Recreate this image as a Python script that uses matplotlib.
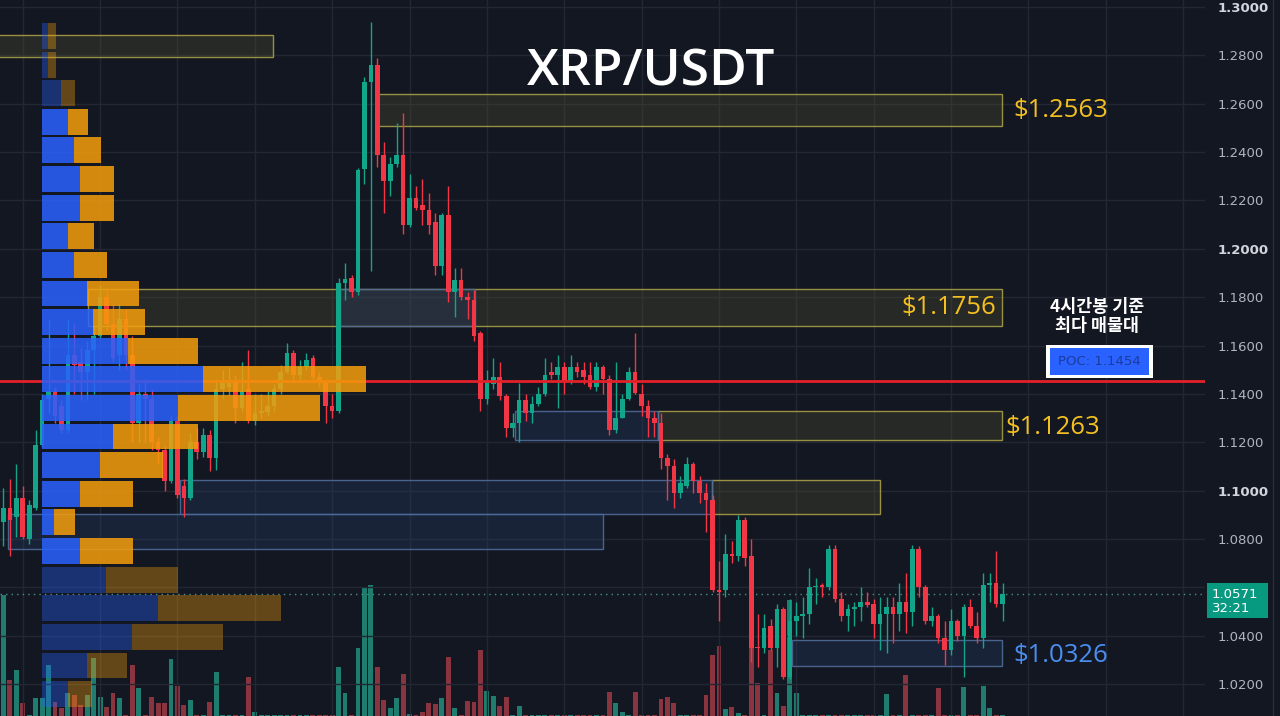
import matplotlib
matplotlib.use('Agg')
import matplotlib.pyplot as plt
import matplotlib.transforms as mtransforms
from matplotlib.patches import Rectangle
from matplotlib.lines import Line2D
from matplotlib.ticker import MultipleLocator

plt.rcParams['font.family'] = ['Open Sans', 'Noto Sans CJK KR', 'DejaVu Sans']

# ---- candles (4h, XRP/USDT) ----
opens = [1.087, 1.093, 1.089, 1.097, 1.080, 1.093, 1.119, 1.138, 1.141, 1.135,
         1.125, 1.156, 1.153, 1.149, 1.158, 1.164, 1.180, 1.169, 1.156, 1.171,
         1.156, 1.128, 1.140, 1.138, 1.120, 1.117, 1.104, 1.129, 1.102, 1.097,
         1.120, 1.116, 1.123, 1.1135, 1.142, 1.143, 1.145, 1.134, 1.142, 1.129,
         1.132, 1.1325, 1.135, 1.142, 1.149, 1.157, 1.148, 1.151, 1.155, 1.147,
         1.145, 1.135, 1.133, 1.186, 1.188, 1.182, 1.233, 1.269, 1.276, 1.239,
         1.228, 1.235, 1.239, 1.210, 1.221, 1.218, 1.216, 1.211, 1.193, 1.214,
         1.182, 1.187, 1.180, 1.179, 1.165, 1.138, 1.144, 1.147, 1.139, 1.126,
         1.128, 1.1375, 1.132, 1.136, 1.140, 1.149, 1.148, 1.151, 1.145, 1.151,
         1.150, 1.148, 1.143, 1.151, 1.146, 1.125, 1.130, 1.138, 1.149, 1.140,
         1.135, 1.130, 1.128, 1.1135, 1.110, 1.099, 1.102, 1.111, 1.104, 1.099,
         1.096, 1.059, 1.059, 1.074, 1.073, 1.088, 1.073, 1.035, 1.035, 1.044,
         1.035, 1.051, 1.023, 1.046, 1.048, 1.049, 1.060, 1.061, 1.060, 1.076,
         1.055, 1.048, 1.051, 1.052, 1.054, 1.053, 1.045, 1.049, 1.052, 1.049,
         1.054, 1.050, 1.076, 1.060, 1.046, 1.048, 1.039, 1.034, 1.046, 1.040,
         1.052, 1.044, 1.039, 1.061, 1.062, 1.053]
highs = [1.101, 1.105, 1.111, 1.102, 1.096, 1.125, 1.140, 1.171, 1.143, 1.1375,
         1.171, 1.169, 1.159, 1.162, 1.168, 1.185, 1.183, 1.177, 1.177, 1.175,
         1.164, 1.144, 1.146, 1.142, 1.122, 1.119, 1.131, 1.131, 1.105, 1.124,
         1.126, 1.126, 1.125, 1.146, 1.150, 1.151, 1.148, 1.153, 1.158, 1.140,
         1.140, 1.141, 1.144, 1.152, 1.161, 1.158, 1.154, 1.157, 1.156, 1.149,
         1.146, 1.140, 1.188, 1.194, 1.189, 1.2334, 1.271, 1.294, 1.279, 1.244,
         1.238, 1.252, 1.256, 1.231, 1.226, 1.229, 1.223, 1.215, 1.215, 1.226,
         1.192, 1.192, 1.182, 1.183, 1.166, 1.150, 1.155, 1.153, 1.140, 1.132,
         1.1445, 1.140, 1.139, 1.143, 1.155, 1.153, 1.156, 1.153, 1.156, 1.153,
         1.153, 1.153, 1.153, 1.152, 1.148, 1.153, 1.140, 1.151, 1.165, 1.144,
         1.1375, 1.133, 1.132, 1.115, 1.113, 1.106, 1.114, 1.112, 1.106, 1.103,
         1.098, 1.071, 1.082, 1.079, 1.090, 1.089, 1.080, 1.049, 1.049, 1.047,
         1.053, 1.052, 1.055, 1.054, 1.056, 1.068, 1.064, 1.062, 1.0775, 1.0775,
         1.058, 1.053, 1.054, 1.060, 1.058, 1.055, 1.056, 1.056, 1.056, 1.062,
         1.066, 1.0775, 1.077, 1.061, 1.052, 1.049, 1.046, 1.051, 1.047, 1.053,
         1.055, 1.050, 1.066, 1.066, 1.075, 1.062]
lows = [1.077, 1.073, 1.081, 1.080, 1.078, 1.092, 1.118, 1.132, 1.128, 1.124,
        1.124, 1.140, 1.1375, 1.1375, 1.140, 1.163, 1.166, 1.153, 1.150, 1.150,
        1.120, 1.120, 1.120, 1.117, 1.111, 1.100, 1.103, 1.097, 1.089, 1.096,
        1.113, 1.114, 1.108, 1.1085, 1.138, 1.139, 1.128, 1.133, 1.128, 1.127,
        1.130, 1.131, 1.133, 1.140, 1.1487, 1.146, 1.146, 1.150, 1.145, 1.143,
        1.128, 1.130, 1.132, 1.179, 1.180, 1.181, 1.227, 1.191, 1.234, 1.215,
        1.222, 1.234, 1.206, 1.209, 1.216, 1.210, 1.206, 1.189, 1.189, 1.178,
        1.172, 1.179, 1.171, 1.162, 1.133, 1.136, 1.142, 1.1375, 1.122, 1.122,
        1.120, 1.129, 1.128, 1.135, 1.139, 1.146, 1.134, 1.140, 1.144, 1.147,
        1.144, 1.142, 1.141, 1.140, 1.123, 1.124, 1.130, 1.1375, 1.140, 1.131,
        1.122, 1.122, 1.109, 1.096, 1.093, 1.097, 1.101, 1.099, 1.095, 1.083,
        1.058, 1.046, 1.056, 1.070, 1.071, 1.069, 1.029, 1.027, 1.033, 1.034,
        1.027, 1.022, 1.022, 1.040, 1.039, 1.045, 1.053, 1.056, 1.059, 1.054,
        1.046, 1.042, 1.044, 1.046, 1.052, 1.039, 1.034, 1.033, 1.037, 1.042,
        1.041, 1.044, 1.056, 1.045, 1.044, 1.037, 1.028, 1.032, 1.038, 1.023,
        1.043, 1.037, 1.035, 1.054, 1.052, 1.046]
closes = [1.093, 1.088, 1.097, 1.081, 1.094, 1.119, 1.1375, 1.141, 1.131, 1.125,
          1.156, 1.152, 1.149, 1.158, 1.164, 1.180, 1.169, 1.155, 1.171, 1.156,
          1.128, 1.140, 1.138, 1.120, 1.117, 1.104, 1.129, 1.098, 1.097, 1.120,
          1.116, 1.123, 1.1135, 1.142, 1.145, 1.145, 1.134, 1.141, 1.129, 1.132,
          1.133, 1.135, 1.142, 1.149, 1.157, 1.148, 1.151, 1.154, 1.147, 1.145,
          1.135, 1.133, 1.186, 1.1875, 1.182, 1.2326, 1.269, 1.276, 1.239, 1.228,
          1.235, 1.239, 1.210, 1.221, 1.217, 1.216, 1.210, 1.193, 1.214, 1.182,
          1.187, 1.180, 1.179, 1.164, 1.138, 1.145, 1.147, 1.139, 1.126, 1.128,
          1.1375, 1.132, 1.136, 1.140, 1.148, 1.148, 1.151, 1.145, 1.151, 1.149,
          1.147, 1.143, 1.151, 1.146, 1.125, 1.130, 1.138, 1.149, 1.1404, 1.135,
          1.130, 1.128, 1.1135, 1.110, 1.099, 1.103, 1.111, 1.104, 1.099, 1.096,
          1.059, 1.058, 1.074, 1.073, 1.088, 1.072, 1.035, 1.0348, 1.043, 1.035,
          1.051, 1.023, 1.046, 1.048, 1.049, 1.060, 1.0605, 1.060, 1.076, 1.055,
          1.048, 1.051, 1.052, 1.054, 1.0525, 1.045, 1.049, 1.052, 1.049, 1.054,
          1.050, 1.076, 1.060, 1.046, 1.048, 1.039, 1.034, 1.046, 1.040, 1.052,
          1.044, 1.039, 1.061, 1.062, 1.053, 1.0571]
volumes = [16.9, 5.0, 6.4, 1.8, 0.2, 2.5, 2.5, 7.1, 2.0, 1.1,
           3.2, 2.9, 1.5, 2.9, 8.1, 2.7, 1.3, 3.2, 2.5, 0.2,
           7.1, 3.9, 0.2, 2.7, 1.8, 1.8, 8.0, 4.2, 1.5, 2.2,
           0.2, 0.2, 2.0, 6.1, 0.1, 0.1, 0.2, 0.1, 5.4, 0.6,
           0.1, 0.1, 0.1, 0.1, 0.2, 0.1, 0.1, 0.1, 0.1, 0.1,
           0.2, 0.1, 6.8, 3.2, 0.2, 9.5, 18.0, 18.3, 6.8, 2.2,
           1.1, 2.5, 5.9, 0.3, 0.1, 0.6, 1.8, 1.7, 2.5, 8.2,
           1.1, 0.1, 2.1, 2.0, 9.2, 3.5, 2.8, 1.4, 2.7, 0.1,
           1.4, 0.1, 0.1, 0.1, 0.1, 0.1, 0.1, 0.1, 0.1, 0.1,
           0.1, 0.1, 0.1, 0.1, 3.4, 1.8, 0.6, 0.1, 3.4, 0.1,
           0.1, 0.1, 2.4, 2.7, 1.8, 0.1, 0.1, 0.1, 0.1, 2.9,
           8.5, 9.8, 1.0, 1.3, 0.4, 0.1, 9.8, 4.6, 0.1, 9.2,
           3.2, 1.4, 16.2, 3.2, 0.1, 0.1, 0.1, 0.1, 0.2, 0.2,
           0.1, 0.1, 0.1, 0.1, 0.1, 0.1, 0.2, 3.1, 0.1, 0.1,
           5.7, 0.2, 0.1, 0.1, 0.1, 3.9, 0.2, 0.1, 0.1, 4.1,
           0.1, 0.1, 4.2, 1.1, 0.2, 0.1]

# ---- volume profile (rows of price, buy / sell volume) ----
vp_price = [1.2880, 1.2762, 1.2644, 1.2525, 1.2407, 1.2289, 1.2170, 1.2052,
            1.1934, 1.1815, 1.1697, 1.1579, 1.1461, 1.1342, 1.1224, 1.1106,
            1.0987, 1.0869, 1.0751, 1.0632, 1.0514, 1.0396, 1.0277, 1.0159]
vp_buy = [0.6, 0.6, 1.9, 2.6, 3.2, 3.8, 3.8, 2.6, 3.2, 4.5, 5.1, 8.6,
          16.1, 13.6, 7.1, 5.8, 3.8, 1.2, 3.8, 6.4, 11.6, 9.0, 4.5, 2.6]
vp_sell = [0.8, 0.8, 1.4, 2.0, 2.7, 3.4, 3.4, 2.6, 3.3, 5.2, 5.2, 7.0,
           16.3, 14.2, 8.5, 6.3, 5.3, 2.1, 5.3, 7.2, 12.3, 9.1, 4.0, 2.4]
vp_in_value_area = [False, False, False] + [True] * 16 + [False] * 5

# ---- zones: (start bar, end bar, low, high, kind) ----
zones = [(-1.0, 41.8, 1.2793, 1.2884, 'supply'),
         (57.8, 154.9, 1.2508, 1.2640, 'supply'),
         (13.1, 154.9, 1.1681, 1.1834, 'supply'),
         (52.2, 73.1, 1.1681, 1.1834, 'demand'),
         (101.5, 154.9, 1.1209, 1.1329, 'supply'),
         (79.4, 101.5, 1.1209, 1.1329, 'demand'),
         (109.9, 136.0, 1.0903, 1.1044, 'supply'),
         (27.4, 109.9, 1.0903, 1.1044, 'demand'),
         (0.7, 93.0, 1.0758, 1.0903, 'demand'),
         (122.3, 154.9, 1.0275, 1.0382, 'demand')]
level_labels = ['$1.2563', '$1.1756', '$1.1263', '$1.0326']
level_prices = [1.2574, 1.1759, 1.1263, 1.0320]
poc = 1.1454
tick_vals = [1.02, 1.04, 1.06, 1.08, 1.10, 1.12, 1.14, 1.16, 1.18, 1.20,
             1.22, 1.24, 1.26, 1.28, 1.30]

BG = '#131722'
UP = '#12a589'
DOWN = '#f23645'
YEL = '#f4c020'
W, H = 1280, 716
ylim = (1.0068, 1.3029)
xlim = (-0.53, 186.4)

fig = plt.figure(figsize=(12.8, 7.16), dpi=100, facecolor=BG)
rect = [0, 0, 1205 / W, 1]

# volume pane (behind)
ax_vol = fig.add_axes(rect)
ax_vol.set_zorder(0)
ax_vol.axis('off')
ax_vol.set_xlim(xlim)
ax_vol.set_ylim(0, 100)
x = list(range(len(closes)))
up = [c >= o for o, c in zip(opens, closes)]
ax_vol.bar(x, volumes, width=0.75,
           color=['#1e7d6e' if u else '#8a3440' for u in up])

# price pane
ax = fig.add_axes(rect)
ax.set_zorder(1)
ax.patch.set_visible(False)
ax.set_xlim(xlim)
ax.set_ylim(ylim)
for s in ax.spines.values():
    s.set_visible(False)
ax.xaxis.set_major_locator(MultipleLocator(12, offset=3))
ax.tick_params(axis='x', length=0, labelbottom=False)
ax.yaxis.tick_right()
ax.set_yticks(tick_vals)
ax.set_yticklabels(['%.4f' % v for v in tick_vals], fontfamily='DejaVu Sans')
ax.tick_params(axis='y', length=0, pad=9, labelsize=9.5, labelcolor='#b2b5be')
for lbl, v in zip(ax.get_yticklabels(), tick_vals):
    if round(v * 100) % 10 == 0:
        lbl.set_fontweight('bold')
        lbl.set_color('#d1d4dc')
ax.grid(True, color='#232733', lw=1)
ax.set_axisbelow(True)

for x0, x1, lo, hi, kind in zones:
    if kind == 'supply':
        fc, ec = (0.30, 0.30, 0.20, 0.35), (0.66, 0.62, 0.27, 0.9)
    else:
        fc, ec = (0.15, 0.25, 0.42, 0.30), (0.30, 0.42, 0.60, 0.9)
    ax.add_patch(Rectangle((x0, lo), x1 - x0, hi - lo, facecolor=fc,
                           edgecolor=ec, lw=1, zorder=1.5))

colors = [UP if u else DOWN for u in up]
ax.vlines(x, lows, highs, color=colors, lw=1, zorder=3)
bottoms = [min(o, c) for o, c in zip(opens, closes)]
heights = [max(abs(c - o), 0.0006) for o, c in zip(opens, closes)]
ax.bar(x, heights, bottom=bottoms, width=0.72, color=colors, zorder=3)

ax.axhline(closes[-1], color='#4b8f86', lw=1, ls=(0, (1, 3)), zorder=2)
ax.axhline(poc, color='#e3202a', lw=2, zorder=4)

# level labels
lbl_kw = dict(fontsize=18.5, va='center', fontweight='medium')
ax.text(156.6, level_prices[0], level_labels[0], color=YEL, ha='left', **lbl_kw)
ax.text(154.0, level_prices[1], level_labels[1], color=YEL, ha='right', **lbl_kw)
ax.text(155.5, level_prices[2], level_labels[2], color=YEL, ha='left', **lbl_kw)
ax.text(156.6, level_prices[3], level_labels[3], color='#4a8ef0', ha='left',
        **lbl_kw)

ax.text(169.6, 1.1720, '4시간봉 기준\n최다 매물대', color='white', fontsize=12.5,
        fontweight='bold', ha='center', va='center', linespacing=1.05,
        fontfamily=['Noto Sans CJK KR', 'DejaVu Sans'])
ax.add_patch(Rectangle((161.7, 1.1466), 16.6, 0.0136, facecolor='white',
                       edgecolor='none', zorder=5))
ax.add_patch(Rectangle((162.3, 1.1478), 15.4, 0.0112, facecolor='#2962ff',
                       edgecolor='none', zorder=6))
ax.text(170.0, 1.1532, 'POC: %.4f' % poc, color='#1c3c9c', fontsize=9.5,
        ha='center', va='center', zorder=7, fontfamily='DejaVu Sans')

# volume profile overlay
prof = fig.add_axes([42 / W, 0, 400 / W, 1])
prof.set_zorder(2)
prof.patch.set_visible(False)
prof.axis('off')
prof.set_xlim(0, 40)
prof.set_ylim(ylim)
for p, b, s, va in zip(vp_price, vp_buy, vp_sell, vp_in_value_area):
    a = 0.85 if va else 0.36
    prof.barh(p, b, height=0.0107, color='#2962ff', alpha=a, lw=0)
    prof.barh(p, s, left=b, height=0.0107, color='#f59e0b', alpha=a, lw=0)

fig.text(651 / W, 1 - 72 / H, 'XRP/USDT', color='white', fontsize=37,
         fontweight='semibold', ha='center', va='center')

# last price tag on the price scale
tr = mtransforms.blended_transform_factory(fig.transFigure, ax.transData)
tag = Rectangle((1207 / W, 1.0473), 61 / W, 0.0145, transform=tr,
                facecolor='#089981', edgecolor='none', zorder=5)
fig.add_artist(tag)
fig.text(1212 / W, closes[-1], '%.4f' % closes[-1], transform=tr, color='white',
         fontsize=9.5, va='center', ha='left', zorder=6, fontfamily='DejaVu Sans')
fig.text(1212 / W, 1.0514, '32:21', transform=tr, color='white',
         fontsize=9.5, va='center', ha='left', zorder=6, fontfamily='DejaVu Sans')
fig.add_artist(Line2D([1273 / W, 1273 / W], [0, 1], color='#2a2e39', lw=1))

fig.savefig('out.png', dpi=100, facecolor=BG)
